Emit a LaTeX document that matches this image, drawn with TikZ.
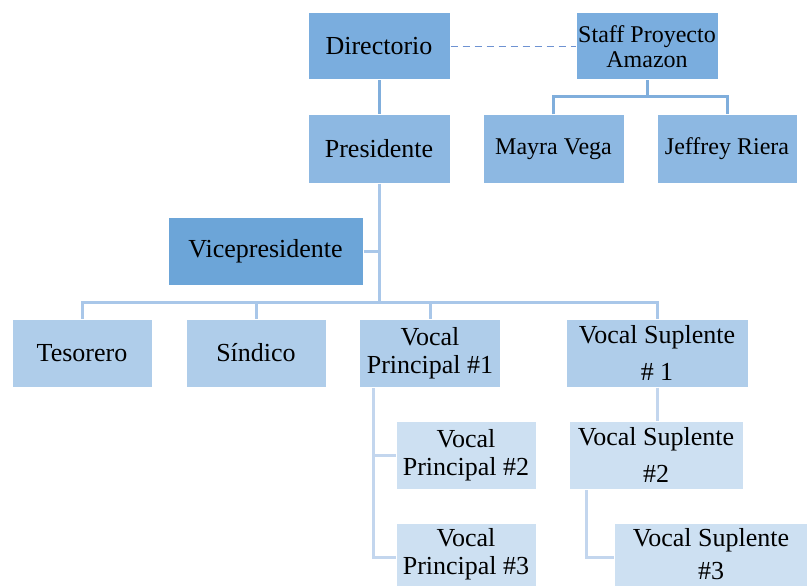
\documentclass[tikz,border=0pt]{standalone}
\usepackage{fontspec}
\setmainfont{Liberation Serif}
\usetikzlibrary{calc}

\definecolor{azulA}{HTML}{7AADDE}
\definecolor{azulB}{HTML}{8DB8E2}
\definecolor{azulC}{HTML}{6CA5D8}
\definecolor{azulD}{HTML}{AFCDEA}
\definecolor{azulE}{HTML}{CDE0F2}
\definecolor{lineaA}{HTML}{80AEDC}
\definecolor{lineaB}{HTML}{A9C7E9}
\definecolor{lineaC}{HTML}{C3D6EE}
\definecolor{lineaD}{HTML}{6E92D2}

\begin{document}
\begin{tikzpicture}[x=1pt,y=-1pt,
        cargo/.style={draw=white,line width=1pt,minimum height=68pt,inner sep=0pt,align=center,
                      font=\fontsize{26}{28}\selectfont},
        chico/.style={font=\fontsize{24}{25}\selectfont},
        suplente/.style={font=\fontsize{26}{37}\selectfont},
        linea/.style={line width=3pt}]
    \useasboundingbox (0,0) rectangle (807,586);

    \node[cargo,fill=azulA,minimum width=142pt,minimum height=67pt] (dir) at (379,46.5) {Directorio};
    \node[cargo,chico,fill=azulA,minimum width=142pt,minimum height=67pt] (staff) at (647,46.5) {Staff Proyecto\\Amazon};
    \node[cargo,chico,fill=azulB,minimum width=141pt] (mayra) at (553.5,149) {Mayra Vega};
    \node[cargo,chico,fill=azulB,minimum width=140pt] (jeffrey) at (727,149) {Jeffrey Riera};
    \node[cargo,fill=azulB,minimum width=142pt] (pres) at (379,149) {Presidente};
    \node[cargo,fill=azulC,minimum width=195pt] (vice) at (265.5,251) {Vicepresidente};

    \node[cargo,fill=azulD,minimum width=140pt] (tes) at (82,353) {Tesorero};
    \node[cargo,fill=azulD,minimum width=140pt] (sin) at (256,353) {Síndico};
    \node[cargo,fill=azulD,minimum width=141pt] (vp1) at (430,353) {Vocal\\Principal \#1};
    \node[cargo,suplente,fill=azulD,minimum width=182pt] (vs1) at (657,353) {Vocal Suplente\\\# 1};

    \node[cargo,fill=azulE,minimum width=140pt] (vp2) at (466,455) {Vocal\\Principal \#2};
    \node[cargo,fill=azulE,minimum width=140pt,minimum height=63pt] (vp3) at (466,554.5) {Vocal\\Principal \#3};
    \node[cargo,suplente,fill=azulE,minimum width=174pt] (vs2) at (656,455) {Vocal Suplente\\\#2};
    \node[cargo,fill=azulE,minimum width=194pt,minimum height=63pt,font=\fontsize{26}{33}\selectfont] (vs3) at (711,554.5) {Vocal Suplente\\\#3};

    % directorio y staff
    \draw[line width=1.5pt,dash pattern=on 7pt off 5pt,lineaD] (dir.east) -- (staff.west);
    \draw[linea,lineaA] (dir) -- (pres);
    \coordinate (sbus) at (647,97);
    \draw[linea,lineaA] (staff) -- (sbus);
    \draw[linea,lineaA] (mayra.north) -- (mayra.north |- sbus) -- (jeffrey.north |- sbus) -- (jeffrey.north);

    % presidente hacia abajo
    \coordinate (bus) at (379,302);
    \draw[linea,lineaB] (pres) -- (bus);
    \draw[linea,lineaB] (vice.east) -- (vice.east -| bus);
    \draw[linea,lineaB] (tes.north) -- (tes.north |- bus) -- (vs1.north |- bus) -- (vs1.north);
    \draw[linea,lineaB] (sin.north) -- (sin.north |- bus);
    \draw[linea,lineaB] (vp1.north) -- (vp1.north |- bus);

    % vocales
    \coordinate (vpx) at (373,388);
    \draw[linea,lineaC] (vpx) |- (vp2.west);
    \draw[linea,lineaC] (vpx) -- (vpx |- 0,557) -- (vp3.west |- 0,557);
    \draw[linea,lineaC] (vs1.south) -- (vs1.south |- vs2.north);
    \coordinate (vsx) at (586,490);
    \draw[linea,lineaC] (vsx) -- (vsx |- 0,557) -- (vs3.west |- 0,557);
\end{tikzpicture}
\end{document}
